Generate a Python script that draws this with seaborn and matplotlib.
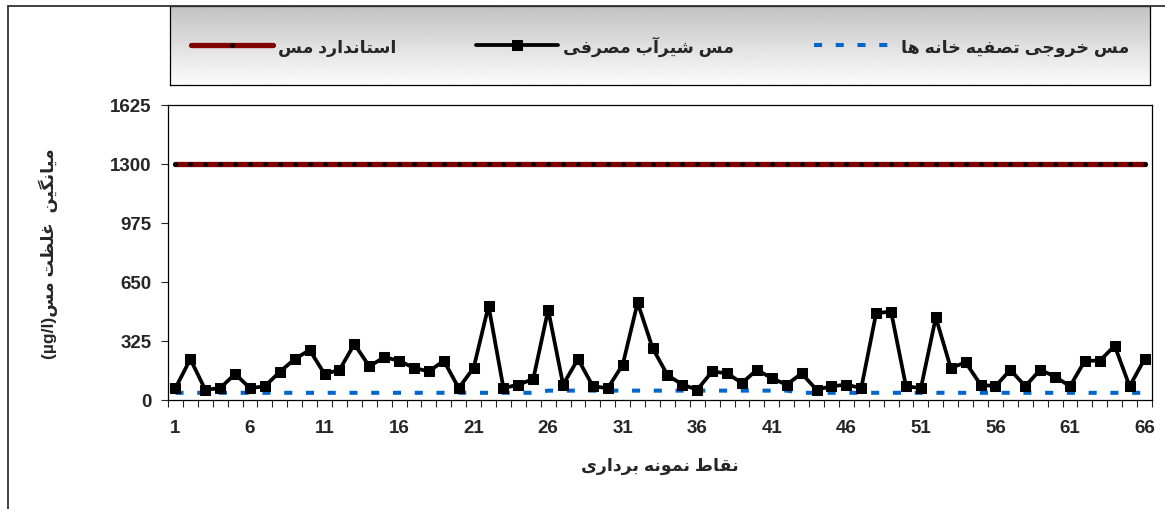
import numpy as np
import pandas as pd
import seaborn as sns
import matplotlib.pyplot as plt
from matplotlib.lines import Line2D

# sampling points 1..66
points = list(range(1, 67))

# copper in tap water (black squares)
tap_water = [64, 224, 55, 64, 142, 64, 74, 154, 224, 274,
             142, 164, 307, 184, 234, 215, 175, 156, 215, 64,
             175, 518, 64, 83, 114, 496, 83, 224, 74, 64,
             193, 536, 285, 136, 83, 55, 156, 145, 92, 165,
             118, 83, 145, 55, 74, 83, 64, 478, 485, 74,
             64, 454, 175, 206, 83, 74, 165, 74, 165, 127,
             74, 215, 215, 297, 74, 224]

# copper at treatment plant outlet (blue dashes)
plant_outlet = [38] * 25 + [50] * 17 + [38] * 24

# copper standard
standard = [1300] * 66

y_ticks = [0, 325, 650, 975, 1300, 1625]
x_labels = list(range(1, 67, 5))

lbl_standard = "استاندارد مس"
lbl_tap = "مس شیرآب مصرفی"
lbl_outlet = "مس خروجی تصفیه خانه ها"
lbl_x = "نقاط نمونه برداری"
lbl_y = "میانگین  غلظت مس"
lbl_unit = "(µg/l)"

# matplotlib does no arabic shaping, so pick the presentation forms by hand
FORMS = {
    'ا': (0xFE8D, 0xFE8E, None, None),
    'آ': (0xFE81, 0xFE82, None, None),
    'ب': (0xFE8F, 0xFE90, 0xFE91, 0xFE92),
    'ت': (0xFE95, 0xFE96, 0xFE97, 0xFE98),
    'ج': (0xFE9D, 0xFE9E, 0xFE9F, 0xFEA0),
    'خ': (0xFEA5, 0xFEA6, 0xFEA7, 0xFEA8),
    'د': (0xFEA9, 0xFEAA, None, None),
    'ر': (0xFEAD, 0xFEAE, None, None),
    'س': (0xFEB1, 0xFEB2, 0xFEB3, 0xFEB4),
    'ش': (0xFEB5, 0xFEB6, 0xFEB7, 0xFEB8),
    'ص': (0xFEB9, 0xFEBA, 0xFEBB, 0xFEBC),
    'ط': (0xFEC1, 0xFEC2, 0xFEC3, 0xFEC4),
    'ظ': (0xFEC5, 0xFEC6, 0xFEC7, 0xFEC8),
    'غ': (0xFECD, 0xFECE, 0xFECF, 0xFED0),
    'ف': (0xFED1, 0xFED2, 0xFED3, 0xFED4),
    'ق': (0xFED5, 0xFED6, 0xFED7, 0xFED8),
    'گ': (0xFB92, 0xFB93, 0xFB94, 0xFB95),
    'ل': (0xFEDD, 0xFEDE, 0xFEDF, 0xFEE0),
    'م': (0xFEE1, 0xFEE2, 0xFEE3, 0xFEE4),
    'ن': (0xFEE5, 0xFEE6, 0xFEE7, 0xFEE8),
    'و': (0xFEED, 0xFEEE, None, None),
    'ه': (0xFEE9, 0xFEEA, 0xFEEB, 0xFEEC),
    'ی': (0xFBFC, 0xFBFD, 0xFBFE, 0xFBFF),
}


def fa(s):
    out = []
    for i, ch in enumerate(s):
        if ch not in FORMS:
            out.append(ch)
            continue
        prev = s[i - 1] if i > 0 else ''
        nxt = s[i + 1] if i + 1 < len(s) else ''
        iso, fin, ini, med = FORMS[ch]
        j_prev = prev in FORMS and FORMS[prev][2] is not None
        j_next = nxt in FORMS and ini is not None
        if j_prev and j_next:
            out.append(chr(med))
        elif j_prev:
            out.append(chr(fin))
        elif j_next:
            out.append(chr(ini))
        else:
            out.append(chr(iso))
    return ''.join(out)[::-1]


sns.set_style("white")
plt.rcParams['font.family'] = ['Liberation Sans', 'DejaVu Sans']
plt.rcParams['font.weight'] = 'bold'

fig = plt.figure(figsize=(11.65, 5.1), dpi=100)
ax = fig.add_axes([168 / 1165, 1 - 400.7 / 510, 984 / 1165, 294.7 / 510])

sns.lineplot(x=points, y=plant_outlet, ax=ax, color='#0066CC', lw=2.9,
             linestyle=(0, (2, 3.4)), label=fa(lbl_outlet))
sns.lineplot(x=points, y=tap_water, ax=ax, color='black', lw=2.7,
             marker='s', markersize=6.8, markeredgecolor='black',
             label=fa(lbl_tap))
sns.lineplot(x=points, y=standard, ax=ax, color='#800000', lw=3.8,
             marker='o', markersize=2.6, markerfacecolor='black',
             markeredgecolor='black', label=fa(lbl_standard))

handles, labels = ax.get_legend_handles_labels()
if ax.get_legend():
    ax.get_legend().remove()

ax.set_xlim(0.5, 66.5)
ax.set_ylim(0, 1625)
ax.set_yticks(y_ticks)
ax.set_yticklabels([str(v) for v in y_ticks], fontsize=13.5, fontweight='bold')
ax.set_xticks(x_labels)
ax.set_xticklabels([str(v) for v in x_labels], fontsize=13.5, fontweight='bold')
ax.set_xticks(np.arange(0.5, 67, 1), minor=True)
ax.tick_params(axis='x', which='major', length=0, pad=14)
ax.tick_params(axis='x', which='minor', length=5, width=0.8, direction='out', bottom=True)
ax.tick_params(axis='y', length=5, width=0.8, direction='out', left=True, pad=7)
for sp in ax.spines.values():
    sp.set_visible(True)
    sp.set_color('black')
    sp.set_linewidth(0.9)

ax.set_ylabel(lbl_unit + fa(lbl_y), fontsize=12.5, fontweight='bold')
ax.yaxis.set_label_coords(-0.112, 0.5)
ax.set_xlabel(fa(lbl_x), fontsize=12.5, fontweight='bold')
ax.xaxis.set_label_coords(0.5, -0.195)

# legend panel with grey gradient
lax = fig.add_axes([170 / 1165, 1 - 86 / 510, 980 / 1165, 79 / 510])
grad = np.linspace(0.76, 0.99, 100).reshape(-1, 1)
lax.imshow(grad, aspect='auto', cmap='gray', vmin=0, vmax=1,
           extent=[0, 1, 0, 1], origin='upper')
lax.set_xticks([])
lax.set_yticks([])
for sp in lax.spines.values():
    sp.set_color('black')
    sp.set_linewidth(0.9)
order = [2, 1, 0]
lax.legend([handles[i] for i in order], [labels[i] for i in order],
           loc='center', ncol=3, frameon=False, handlelength=4.7,
           handletextpad=0.3, columnspacing=4.6,
           prop={'size': 12.5, 'weight': 'bold'})

# outer chart border (left and top)
fig.add_artist(Line2D([8 / 1165, 8 / 1165], [0, 1 - 7 / 510], color='#333333', lw=1.3))
fig.add_artist(Line2D([8 / 1165, 1], [1 - 7 / 510, 1 - 7 / 510], color='#333333', lw=1.3))

fig.savefig('out.png', dpi=100)
